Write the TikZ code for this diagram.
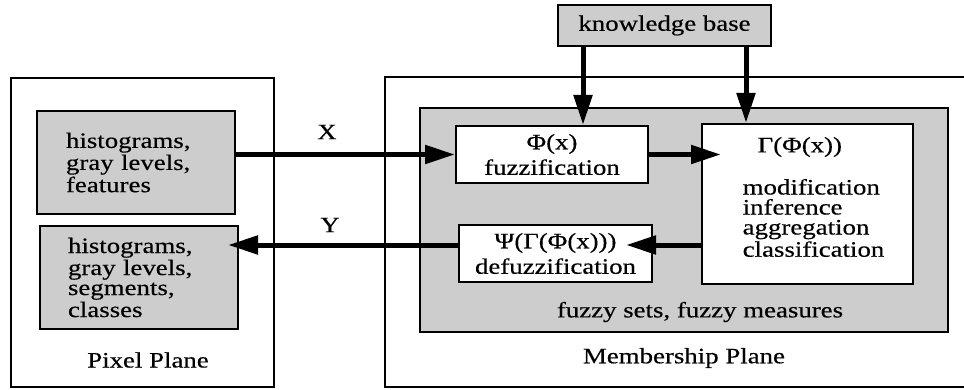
\documentclass[tikz,border=0pt]{standalone}
\usepackage{fontspec}
\setmainfont[FakeStretch=1.22, FakeBold=0.4]{Liberation Serif}
\usetikzlibrary{arrows.meta, positioning}
\definecolor{screen1}{RGB}{205,205,205}

\begin{document}
\begin{tikzpicture}[x=0.5pt, y=-0.5pt,
    every node/.style={font=\fontsize{11}{10}\selectfont},
    plane/.style={rectangle, draw, line width=0.7pt, inner sep=0pt},
    shaded/.style={rectangle, draw, line width=1pt, fill=screen1},
    whitebox/.style={rectangle, draw, line width=1pt, fill=white, inner sep=0pt},
    listbox/.style={shaded, text width=70pt, align=left, inner xsep=14.5pt, inner ysep=0pt},
    twoline/.style={whitebox, align=center, font=\fontsize{11}{12.75}\selectfont},
    flow/.style={-{Triangle[length=15pt, width=9pt]}, line width=2.5pt}
]
\useasboundingbox (0,0) rectangle (964,390);

% Pixel plane
\node[plane, minimum width=131.5pt, minimum height=154.5pt] (pixel) at (142.5,232.5) {};
\node[listbox, minimum width=99pt, minimum height=51.5pt] (feat) at (136,162.5)
    {histograms,\\gray levels,\\features};
\node[listbox, minimum width=99pt, minimum height=51.5pt, inner xsep=14pt, text width=71pt] (seg) at (139,277.5)
    {histograms,\\gray levels,\\segments,\\classes};
\node (pixlabel) at (148,360) {Pixel Plane};

% Membership plane
\node[plane, minimum width=290.5pt, minimum height=155pt] (member) at (675.5,232) {};
\node[shaded, inner sep=0pt, minimum width=264pt, minimum height=112pt] (fsets) at (684,220) {};
\node (fsetslabel) at (700,312) {fuzzy sets, fuzzy measures};
\node (memlabel) at (684,358) {Membership Plane};

\node[shaded, inner sep=0pt, minimum width=106.5pt, minimum height=20.5pt] (kb) at (664.5,25.5) {knowledge base};
\node[twoline, minimum width=96pt, minimum height=28.5pt] (fuzz) at (552,154.5) {Φ(x)\\fuzzification};
\node[twoline, minimum width=96.5pt, minimum height=28.5pt] (defuzz) at (555.5,253.5) {Ψ(Γ(Φ(x)))\\defuzzification};
\node[whitebox, minimum width=105.5pt, minimum height=80pt,
    label={[anchor=north, align=left, yshift=-3.5pt, xshift=3pt]north:{\hspace*{7.5pt}Γ(Φ(x))\\[10pt]modification\\inference\\aggregation\\classification}}]
    (rules) at (807.5,204) {};

% arrows
\node (xlabel) at (327,132) {X};
\node (ylabel) at (330,225) {Y};
\draw[flow] (feat.east |- fuzz.west) -- (fuzz.west);
\draw[flow, shorten >=-10pt] (fuzz.east) -- (fuzz.east -| rules.west);
\coordinate (back) at ([yshift=4.25pt]defuzz.east);
\draw[flow, shorten >=-13.5pt] (back -| rules.west) -- (back);
\draw[flow, shorten >=-5.5pt] ([yshift=4.25pt]defuzz.west) -- ([yshift=4.25pt]defuzz.west -| seg.east);
\draw[flow] ([xshift=-40.75pt]kb.south) -- ([xshift=-40.75pt]kb.south |- fuzz.north);
\draw[flow] ([xshift=40.75pt]kb.south) -- ([xshift=40.75pt]kb.south |- rules.north);

\end{tikzpicture}
\end{document}
